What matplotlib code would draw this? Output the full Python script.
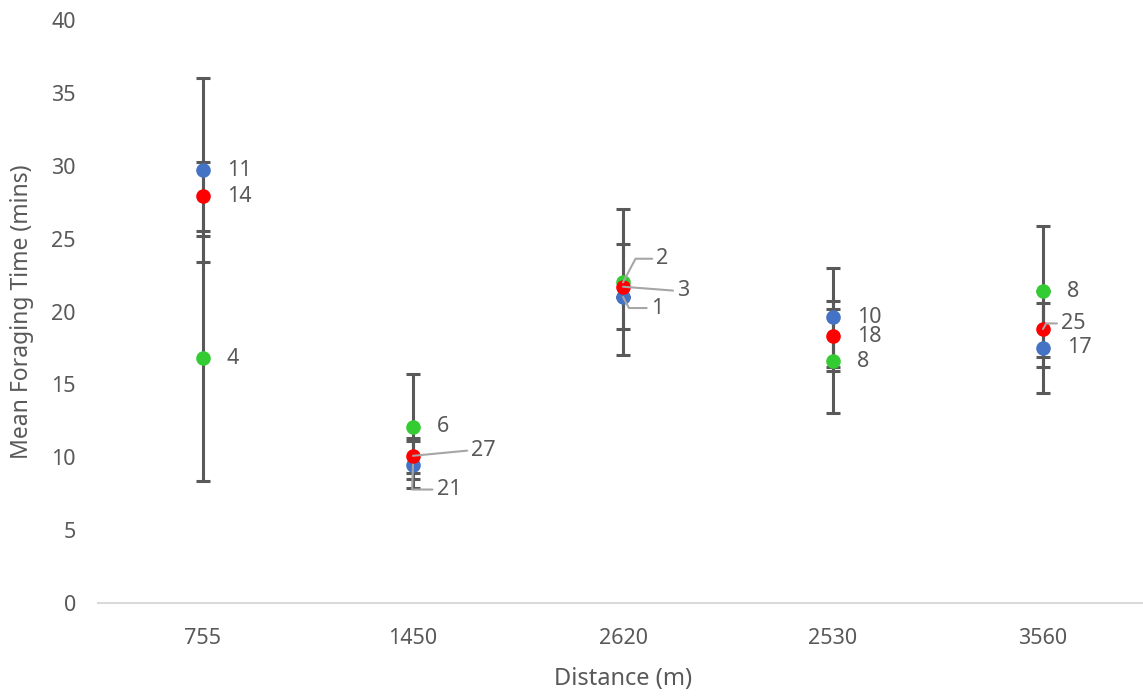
import matplotlib
matplotlib.use("Agg")
import matplotlib.pyplot as plt
import numpy as np

plt.rcParams['font.family'] = ['Noto Sans', 'DejaVu Sans']

# Distance categories (m)
categories = ["755", "1450", "2620", "2530", "3560"]

# Three groups: mean foraging time (mins), error half-width, sample size
blue_mean = [29.7, 9.5, 21.0, 19.6, 17.5]
blue_err = [6.3, 1.6, 0.0, 3.4, 3.1]
blue_n = [11, 21, 1, 10, 17]

red_mean = [27.9, 10.1, 21.7, 18.3, 18.8]
red_err = [2.35, 1.2, 2.9, 2.4, 2.6]
red_n = [14, 27, 3, 18, 25]

green_mean = [16.8, 12.1, 22.0, 16.6, 21.4]
green_err = [8.4, 3.6, 5.0, 3.55, 4.5]
green_n = [4, 6, 2, 8, 8]

BLUE = "#4472C4"
RED = "#FF0000"
GREEN = "#33CC33"
ERR = "#595959"
TXT = "#595959"
LEADER = "#A6A6A6"

fig = plt.figure(figsize=(11.43, 6.96), dpi=100)
ax = fig.add_axes([98 / 1143, 1 - 603 / 696, 1050 / 1143, (603 - 20) / 696])

x = np.arange(len(categories))
series = [
    (blue_mean, blue_err, blue_n, BLUE),
    (green_mean, green_err, green_n, GREEN),
    (red_mean, red_err, red_n, RED),
]

for mean, err, n, col in series:
    ax.errorbar(x, mean, yerr=err, fmt='none', ecolor=ERR, elinewidth=2.2,
                capsize=5, capthick=2.2, zorder=2)
for mean, err, n, col in series:
    ax.plot(x, mean, 'o', color=col, markersize=10.5, markeredgewidth=0, zorder=3)

# Label offsets in points; special entries carry leader lines
LABEL_SIZE = 15.5
default_off = (17, 0)
leaders = {
    ("red", 1): ((42, 4), "arc3,rad=0"),
    ("blue", 1): ((17, -18), "angle,angleA=0,angleB=88,rad=0"),
    ("green", 2): ((24, 17), "angle,angleA=0,angleB=62,rad=0"),
    ("red", 2): ((39, -3), "arc3,rad=0"),
    ("blue", 2): ((20, -8), "angle,angleA=0,angleB=-62,rad=0"),
    ("red", 4): ((13, 4), "angle,angleA=0,angleB=60,rad=0"),
}

for name, (mean, err, n, col) in zip(["blue", "green", "red"], series):
    for i in range(len(categories)):
        key = (name, i)
        if key in leaders:
            off, cs = leaders[key]
            ax.annotate(str(n[i]), xy=(x[i], mean[i]), xytext=off,
                        textcoords='offset points', ha='left', va='center',
                        fontsize=LABEL_SIZE, color=TXT, zorder=4,
                        arrowprops=dict(arrowstyle='-', color=LEADER, lw=1.5,
                                        shrinkA=1, shrinkB=0, relpos=(0, 0.5),
                                        connectionstyle=cs))
        else:
            ax.annotate(str(n[i]), xy=(x[i], mean[i]), xytext=default_off,
                        textcoords='offset points', ha='left', va='center',
                        fontsize=LABEL_SIZE, color=TXT, zorder=4)

ax.set_xlim(-0.5, len(categories) - 0.5)
ax.set_ylim(0, 40)
ax.set_yticks(np.arange(0, 41, 5))
ax.set_xticks(x)
ax.set_xticklabels(categories)

for s in ["top", "right", "left"]:
    ax.spines[s].set_visible(False)
ax.spines["bottom"].set_color("#D9D9D9")
ax.spines["bottom"].set_linewidth(1.5)
ax.tick_params(axis='both', length=0, labelsize=15.5, colors=TXT)
ax.tick_params(axis='y', pad=16)
ax.tick_params(axis='x', pad=18)

ax.set_ylabel("Mean Foraging Time (mins)", fontsize=16.5, color=TXT, labelpad=12)
ax.set_xlabel("Distance (m)", fontsize=17, color=TXT, labelpad=13)

fig.savefig("out.png", dpi=100)
